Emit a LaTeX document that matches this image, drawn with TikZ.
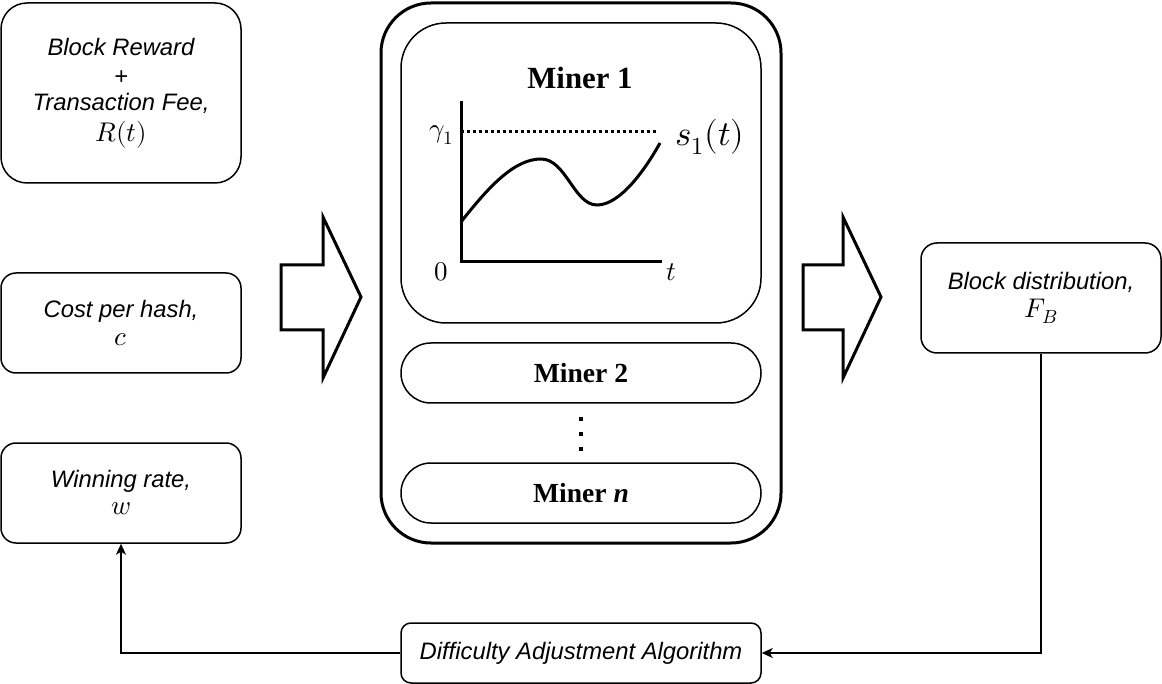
\documentclass[tikz,border=0pt]{standalone}
\usepackage{fontspec}
\usepackage{unicode-math}
\setmathfont{Latin Modern Math}
\newfontfamily\arialf{Liberation Sans}
\newfontfamily\tnrf{Liberation Serif}
\usetikzlibrary{arrows.meta}
\newcommand\sansit{\arialf\itshape\fontsize{23.8}{28}\selectfont}
\newcommand\mathbig{\fontsize{27}{28}\selectfont}
\begin{document}
\begin{tikzpicture}[x=1pt,y=-1pt,
  rbox/.style={draw, line width=1.5pt, rounded corners=#1, inner sep=0pt, align=center, font=\sansit},
  minerbox/.style={draw, line width=1.5pt, rounded corners=#1, inner sep=0pt, align=center},
  bigarrow/.style={draw, line width=3pt, line join=miter, fill=white},
  axis/.style={line width=3pt},
  conn/.style={line width=1.5pt, -{Stealth[length=11pt,width=10pt,inset=3pt]}},
  lbl/.style={inner sep=0pt}
]
\useasboundingbox (0,0) rectangle (1162,684);

% left input boxes
\node[rbox=26pt, minimum width=240pt, minimum height=180pt] (reward) at (121,93)
  {Block Reward\\[1pt]+\\[-2pt]Transaction Fee,\\[3pt]{\mathbig$R(t)$}};
\node[rbox=15pt, minimum width=240pt, minimum height=100pt] (cost) at (121,323)
  {Cost per hash,\\[0pt]{\mathbig$c$}};
\node[rbox=15pt, minimum width=240pt, minimum height=100pt] (win) at (121,493)
  {Winning rate,\\[-1pt]{\mathbig$w$}};

% block arrows
\draw[bigarrow] (281,265) -- (323,265) -- (323,217) -- (361,297) -- (323,378) -- (323,330) -- (281,330) -- cycle;
\draw[bigarrow] (803,265) -- (843,265) -- (843,217) -- (881,297) -- (843,378) -- (843,330) -- (803,330) -- cycle;

% miners container
\node[draw, line width=3pt, rounded corners=50pt, minimum width=400pt, minimum height=540pt, inner sep=0pt] (miners) at (581,273) {};
\node[minerbox=45pt, minimum width=360pt, minimum height=300pt] (m1) at (581,173) {};
\node[lbl, font=\tnrf\bfseries\fontsize{30.8}{31}\selectfont] (m1t) at (580,78) {Miner 1};
\node[minerbox=29.9pt, minimum width=360pt, minimum height=60pt, font=\tnrf\bfseries\fontsize{27.6}{30}\selectfont] (m2) at (581,373) {Miner 2};
\node[minerbox=29.9pt, minimum width=360pt, minimum height=60pt, font=\tnrf\bfseries\fontsize{27.6}{30}\selectfont] (mn) at (581,493) {Miner \textit{n}};
\draw[line width=4pt, dash pattern=on 4pt off 11pt] (m2.south) ++(0,13) coordinate (d1) -- (mn.north |- 0,452) coordinate (d2);

% graph
\coordinate (orig) at (461,262);
\draw[axis] (461,101) -- (orig) -- (662,262);
\draw[line width=3pt, dash pattern=on 3pt off 3pt] (461,132) -- (658,132);
\draw[line width=3pt] (461,222) .. controls (490,185) and (515,159) .. (541,159)
  .. controls (566,159) and (574,205) .. (597,205)
  .. controls (620,205) and (645,170) .. (660,143);
\node[lbl, font=\mathbig] (gam) at (441,135) {$\gamma_1$};
\node[lbl, font=\mathbig] (zero) at (441,272) {$0$};
\node[lbl, font=\mathbig] (tl) at (671,272) {$t$};
\node[lbl, font=\fontsize{35}{35}\selectfont] (s1) at (710,137) {$s_1(t)$};

% right output
\node[rbox=16pt, minimum width=240pt, minimum height=110pt] (dist) at (1041,298)
  {Block distribution,\\[0pt]{\mathbig$F_B$}};

% difficulty
\node[rbox=10pt, minimum width=360pt, minimum height=60pt] (daa) at (581,653) {Difficulty Adjustment Algorithm};

\draw[conn] (dist.south) |- (daa.east);
\draw[conn] (daa.west) -| (win.south);
\end{tikzpicture}
\end{document}
